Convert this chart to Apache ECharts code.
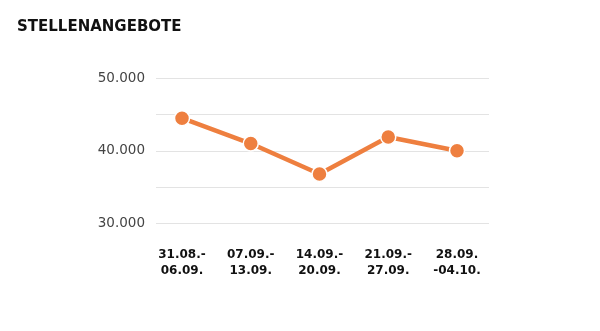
<!DOCTYPE html>
<html>
<head>
<meta charset="utf-8">
<script src="https://cdn.jsdelivr.net/npm/echarts@6/dist/echarts.min.js"></script>
<style>
  html, body { margin: 0; padding: 0; background: #ffffff; }
  #chart { width: 600px; height: 331px; }
</style>
</head>
<body>
<div id="chart"></div>
<script>
// Weekly job offers
const title = 'STELLENANGEBOTE';
const weeks = ['31.08.-\n06.09.', '07.09.-\n13.09.', '14.09.-\n20.09.', '21.09.-\n27.09.', '28.09.\n-04.10.'];
const offers = [44500, 41000, 36800, 41900, 40000];
const yMin = 30000;
const yMax = 50000;
const yStep = 5000;
const labelStep = 10000;

const orange = '#EE7F3F';

function fmt(v) {
  return String(v).replace(/\B(?=(\d{3})+(?!\d))/g, '.');
}

const chart = echarts.init(document.getElementById('chart'), null, { renderer: 'canvas' });
chart.setOption({
  backgroundColor: '#ffffff',
  animation: false,
  title: {
    text: title,
    left: 17,
    top: 20,
    padding: 0,
    textStyle: {
      fontFamily: 'DejaVu Sans',
      fontWeight: 'bold',
      fontSize: 15,
      color: '#111111'
    }
  },
  grid: [
    // wide grid carrying the horizontal guide lines and value labels
    { left: 156, right: 111, top: 78.3, bottom: 107.7 },
    // inner grid where the weeks and the line sit
    { left: 182, right: 143, top: 78.3, bottom: 107.7 }
  ],
  xAxis: [
    { type: 'category', gridIndex: 0, data: weeks, show: false },
    {
      type: 'category',
      gridIndex: 1,
      data: weeks,
      boundaryGap: false,
      axisLine: { show: false },
      axisTick: { show: false },
      splitLine: { show: false },
      axisLabel: {
        margin: 24,
        interval: 0,
        fontFamily: 'DejaVu Sans',
        fontWeight: 'bold',
        fontSize: 12,
        lineHeight: 16,
        color: '#111111',
        align: 'center'
      }
    }
  ],
  yAxis: [
    {
      type: 'value',
      gridIndex: 0,
      min: yMin,
      max: yMax,
      interval: yStep,
      axisLine: { show: false },
      axisTick: { show: false },
      splitLine: { lineStyle: { color: '#e3e3e3', width: 1 } },
      axisLabel: {
        margin: 11,
        fontFamily: 'DejaVu Sans',
        fontSize: 13.5,
        color: '#444444',
        formatter: v => (v % labelStep === 0 ? fmt(v) : '')
      }
    },
    {
      type: 'value',
      gridIndex: 1,
      min: yMin,
      max: yMax,
      interval: yStep,
      show: false,
      splitLine: { show: false }
    }
  ],
  series: [
    {
      type: 'line',
      xAxisIndex: 1,
      yAxisIndex: 1,
      data: offers,
      symbol: 'circle',
      symbolSize: 15,
      lineStyle: { color: orange, width: 4.5 },
      itemStyle: { color: orange, borderColor: '#ffffff', borderWidth: 1.5 }
    }
  ]
});
</script>
</body>
</html>
